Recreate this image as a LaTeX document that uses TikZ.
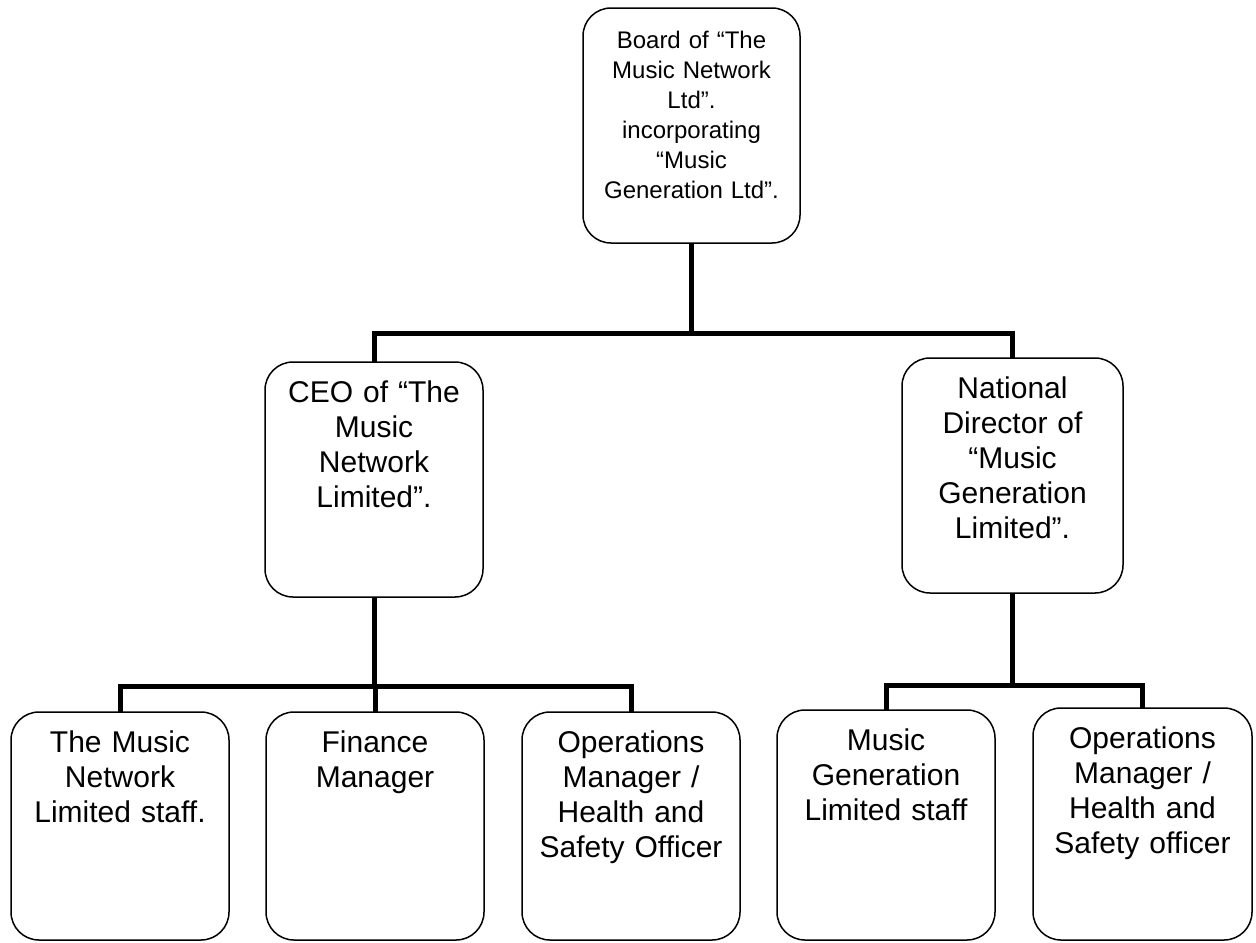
\documentclass[tikz,border=0pt]{standalone}
\usepackage{fontspec}
\setmainfont{Liberation Sans}
\usepackage{tikz}
\usetikzlibrary{positioning, calc}

\tikzset{
  box/.style={draw, rounded corners=14pt, line width=0.75pt, align=center,
    anchor=north, inner xsep=0pt, inner ysep=0pt, outer sep=0pt,
    text width=109pt, text height=20pt, text depth=97.5pt,
    font=\fontsize{15}{17.5}\selectfont},
  link/.style={line width=2.5pt}
}

\begin{document}
\begin{tikzpicture}[x=0.5pt, y=-0.5pt]
    \useasboundingbox (0,0) rectangle (1256,942);

    % top
    \node[box,font=\fontsize{12}{15}\selectfont,text width=108.5pt] (board) at (691.5,8)
      {Board of “The\\Music Network\\Ltd”.\\incorporating\\“Music\\Generation Ltd”.};

    % second row
    \node[box] (ceo) at (374,362)
      {CEO of “The\\Music\\Network\\Limited”.};
    \node[box,text width=110.5pt] (natdir) at (1012.5,358)
      {National\\Director of\\“Music\\Generation\\Limited”.};

    % third row
    \node[box,text depth=94pt] (tmnstaff) at (120,712)
      {The Music\\Network\\Limited staff.};
    \node[box,text depth=94pt] (finance) at (375,712)
      {Finance\\Manager};
    \node[box,text depth=94pt] (opsA) at (631,712)
      {Operations\\Manager /\\Health and\\Safety Officer};
    \node[box,text depth=95pt] (mgstaff) at (886,710)
      {Music\\Generation\\Limited staff};
    \node[box,text depth=96pt,text width=109.5pt] (opsB) at (1142.5,708)
      {Operations\\Manager /\\Health and\\Safety officer};

    % connectors
    \coordinate (busTop) at (691.5,333);
    \coordinate (busCeo) at (374,686);
    \coordinate (busNat) at (1012.5,685);

    \draw[link] (board.south) -- (busTop);
    \draw[link] (ceo.north) |- (busTop) -| (natdir.north);

    \draw[link] (ceo.south) -- (busCeo);
    \draw[link] (tmnstaff.north) |- (busCeo) -| (opsA.north);
    \draw[link] (finance.north) -- (finance.north |- busCeo);

    \draw[link] (natdir.south) -- (busNat);
    \draw[link] (mgstaff.north) |- (busNat) -| (opsB.north);
  \end{tikzpicture}
\end{document}
